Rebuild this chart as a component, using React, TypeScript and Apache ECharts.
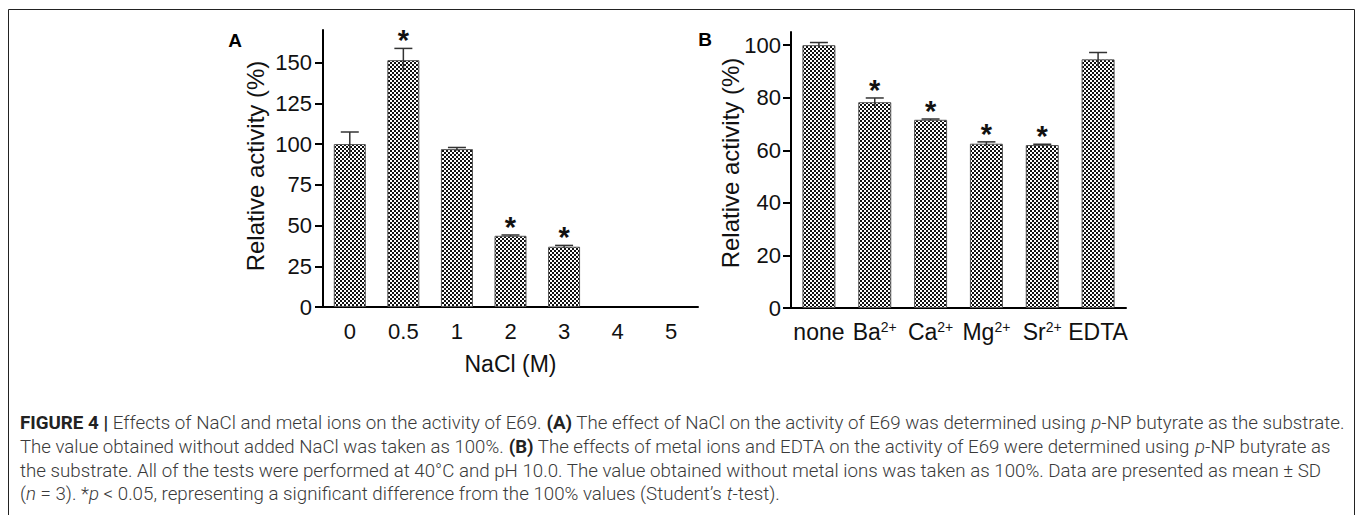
import React, { useEffect, useRef } from 'react';
import * as echarts from 'echarts';

const naclCategories = ['0', '0.5', '1', '2', '3', '4', '5'];
const naclValues = [100, 151.5, 96.9, 43.7, 37.0, 0, 0];
const naclErrors = [7.4, 7.2, 1.0, 0.5, 0.8, 0, 0];
const naclSignificant = [false, true, false, true, true, false, false];
const naclTicks = [0, 25, 50, 75, 100, 125, 150];

const ionCategories = ['none', 'Ba2+', 'Ca2+', 'Mg2+', 'Sr2+', 'EDTA'];
const ionValues = [100, 78.3, 71.6, 62.5, 62.0, 94.6];
const ionErrors = [1.0, 1.6, 0.3, 0.7, 0.3, 2.6];
const ionSignificant = [false, true, true, true, true, false];
const ionTicks = [0, 20, 40, 60, 80, 100];

type Seg = { t: string; s?: 'b' | 'i' };
const captionLines: Seg[][] = [
  [
    { t: 'FIGURE 4 |', s: 'b' },
    { t: ' Effects of NaCl and metal ions on the activity of E69. ' },
    { t: '(A)', s: 'b' },
    { t: ' The effect of NaCl on the activity of E69 was determined using ' },
    { t: 'p', s: 'i' },
    { t: '-NP butyrate as the substrate.' },
  ],
  [
    { t: 'The value obtained without added NaCl was taken as 100%. ' },
    { t: '(B)', s: 'b' },
    { t: ' The effects of metal ions and EDTA on the activity of E69 were determined using ' },
    { t: 'p', s: 'i' },
    { t: '-NP butyrate as' },
  ],
  [
    { t: 'the substrate. All of the tests were performed at 40°C and pH 10.0. The value obtained without metal ions was taken as 100%. Data are presented as mean ± SD' },
  ],
  [
    { t: '(' },
    { t: 'n', s: 'i' },
    { t: ' = 3). *' },
    { t: 'p', s: 'i' },
    { t: ' < 0.05, representing a significant difference from the 100% values (Student\u2019s ' },
    { t: 't', s: 'i' },
    { t: '-test).' },
  ],
];
const captionTargets = [1325, 1310, 1303, 0];

const FONT = "'Liberation Sans', Arial, Helvetica, sans-serif";
const CAP_FONT = 'Roboto, "Liberation Sans", sans-serif';
const CAP_SIZE = 18;

function makePattern() {
  const c = document.createElement('canvas');
  c.width = 4;
  c.height = 4;
  const ctx = c.getContext('2d')!;
  ctx.fillStyle = '#ffffff';
  ctx.fillRect(0, 0, 4, 4);
  ctx.fillStyle = '#111111';
  ctx.fillRect(0, 0, 2, 2);
  ctx.fillRect(2, 2, 2, 2);
  return c;
}

function segFont(s?: 'b' | 'i') {
  const weight = s === 'b' ? 'bold' : '300';
  const style = s === 'i' ? 'italic' : 'normal';
  return `${style} ${weight} ${CAP_SIZE}px ${CAP_FONT}`;
}

function measureLine(segs: Seg[]) {
  const c = document.createElement('canvas');
  const ctx = c.getContext('2d')!;
  let w = 0;
  segs.forEach((sg) => {
    ctx.font = segFont(sg.s);
    w += ctx.measureText(sg.t).width;
  });
  return w;
}

function richText(segs: Seg[]) {
  return segs
    .map((sg) => (sg.s ? `{${sg.s}|${sg.t}}` : `{r|${sg.t}}`))
    .join('');
}

function errorSeries(values: number[], errors: number[], idx: number) {
  return {
    type: 'custom',
    xAxisIndex: idx,
    yAxisIndex: idx,
    z: 5,
    silent: true,
    encode: { x: 0, y: 1 },
    data: values.map((v, i) => [i, v, errors[i]]),
    renderItem: (params: any, api: any) => {
      const i = api.value(0);
      const v = api.value(1);
      const e = api.value(2);
      if (!e) return null;
      const top = api.coord([i, v + e]);
      const bot = api.coord([i, v - e]);
      const hw = 9;
      return {
        type: 'group',
        children: [
          {
            type: 'line',
            shape: { x1: top[0], y1: top[1], x2: bot[0], y2: bot[1] },
            style: { stroke: '#333', lineWidth: 1.5 },
          },
          {
            type: 'line',
            shape: { x1: top[0] - hw, y1: top[1], x2: top[0] + hw, y2: top[1] },
            style: { stroke: '#333', lineWidth: 1.5 },
          },
        ],
      };
    },
  };
}

function starSeries(values: number[], errors: number[], sig: boolean[], idx: number) {
  return {
    type: 'custom',
    xAxisIndex: idx,
    yAxisIndex: idx,
    z: 6,
    silent: true,
    encode: { x: 0, y: 1 },
    data: values
      .map((v, i) => [i, v + errors[i], sig[i] ? 1 : 0])
      .filter((d) => d[2] === 1),
    renderItem: (params: any, api: any) => {
      const p = api.coord([api.value(0), api.value(1)]);
      return {
        type: 'text',
        x: p[0],
        y: p[1] - 8,
        style: {
          text: '*',
          fontSize: 29,
          fontWeight: 'bold',
          fontFamily: FONT,
          fill: '#111',
          align: 'center',
          verticalAlign: 'middle',
        },
      };
    },
  };
}

function barData(values: number[]) {
  return values.map((v) => (v === 0 ? { value: v, itemStyle: { borderWidth: 0, opacity: 0 } } : v));
}

export default function App() {
  const ref = useRef<HTMLDivElement>(null);

  useEffect(() => {
    if (!ref.current) return;
    const chart = echarts.init(ref.current, undefined, { renderer: 'svg' });
    const pattern = { image: makePattern(), repeat: 'repeat' };

    const w0 = measureLine(captionLines[0]);
    const baseScale = w0 > 0 ? captionTargets[0] / w0 : 0.9;
    const captionEls = captionLines.map((segs, li) => {
      const w = measureLine(segs);
      const sx = captionTargets[li] > 0 && w > 0 ? captionTargets[li] / w : baseScale;
      return {
        type: 'text',
        x: 20,
        y: 423 + li * 23.6,
        scaleX: sx,
        style: {
          text: richText(segs),
          fontSize: CAP_SIZE,
          fontFamily: CAP_FONT,
          fill: '#3a3a3a',
          verticalAlign: 'middle',
          align: 'left',
          rich: {
            r: { fontSize: CAP_SIZE, fontFamily: CAP_FONT, fontWeight: 300, fill: '#3a3a3a' },
            b: { fontSize: CAP_SIZE, fontFamily: CAP_FONT, fontWeight: 'bold', fill: '#222' },
            i: { fontSize: CAP_SIZE, fontFamily: CAP_FONT, fontWeight: 300, fontStyle: 'italic', fill: '#3a3a3a' },
          },
        },
      };
    });

    const axisLineStyle = { color: '#000', width: 2 };
    const option: any = {
      animation: false,
      grid: [
        { left: 323, top: 30, width: 375, height: 277 },
        { left: 791, top: 32, width: 335, height: 276 },
      ],
      xAxis: [
        {
          type: 'category',
          gridIndex: 0,
          data: naclCategories,
          axisLine: { lineStyle: axisLineStyle },
          axisTick: { alignWithLabel: true, length: 8, lineStyle: { width: 2, color: '#000' } },
          axisLabel: { color: '#111', fontSize: 22, margin: 13, fontFamily: FONT, interval: 0 },
          name: 'NaCl (M)',
          nameLocation: 'middle',
          nameGap: 45,
          nameTextStyle: { color: '#111', fontSize: 23, fontFamily: FONT },
        },
        {
          type: 'category',
          gridIndex: 1,
          data: ionCategories,
          axisLine: { lineStyle: axisLineStyle },
          axisTick: { alignWithLabel: true, length: 8, lineStyle: { width: 2, color: '#000' } },
          axisLabel: {
            interval: 0,
            margin: 12,
            formatter: (v: string) => {
              const m = v.match(/^([A-Za-z]+)(\d\+)$/);
              return m ? `{n|${m[1]}}{s|${m[2]}}` : `{n|${v}}`;
            },
            rich: {
              n: { fontSize: 23, color: '#111', fontFamily: FONT, lineHeight: 24 },
              s: { fontSize: 14, color: '#111', fontFamily: FONT, verticalAlign: 'top', lineHeight: 14 },
            },
          },
        },
      ],
      yAxis: [
        {
          type: 'value',
          gridIndex: 0,
          min: 0,
          max: 170,
          interval: 25,
          splitLine: { show: false },
          axisLine: { show: true, lineStyle: axisLineStyle },
          axisTick: { show: true, length: 8, lineStyle: { width: 2, color: '#000' }, customValues: naclTicks },
          axisLabel: { customValues: naclTicks, margin: 11, fontSize: 22, color: '#111', fontFamily: FONT },
        },
        {
          type: 'value',
          gridIndex: 1,
          min: 0,
          max: 105,
          interval: 20,
          splitLine: { show: false },
          axisLine: { show: true, lineStyle: axisLineStyle },
          axisTick: { show: true, length: 8, lineStyle: { width: 2, color: '#000' }, customValues: ionTicks },
          axisLabel: { customValues: ionTicks, margin: 10, fontSize: 22, color: '#111', fontFamily: FONT },
        },
      ],
      series: [
        {
          type: 'bar',
          xAxisIndex: 0,
          yAxisIndex: 0,
          data: barData(naclValues),
          barWidth: 32,
          itemStyle: { color: pattern, borderColor: '#555', borderWidth: 1 },
        },
        {
          type: 'bar',
          xAxisIndex: 1,
          yAxisIndex: 1,
          data: barData(ionValues),
          barWidth: 33,
          itemStyle: { color: pattern, borderColor: '#555', borderWidth: 1 },
        },
        errorSeries(naclValues, naclErrors, 0),
        errorSeries(ionValues, ionErrors, 1),
        starSeries(naclValues, naclErrors, naclSignificant, 0),
        starSeries(ionValues, ionErrors, ionSignificant, 1),
      ],
      graphic: [
        {
          type: 'rect',
          shape: { x: 8.5, y: 9.5, width: 1346, height: 530 },
          style: { fill: 'none', stroke: '#222', lineWidth: 1 },
          silent: true,
        },
        {
          type: 'text',
          x: 235,
          y: 40,
          style: { text: 'A', fontSize: 19, fontWeight: 'bold', fontFamily: FONT, fill: '#000', align: 'center', verticalAlign: 'middle' },
        },
        {
          type: 'text',
          x: 705,
          y: 39,
          style: { text: 'B', fontSize: 19, fontWeight: 'bold', fontFamily: FONT, fill: '#000', align: 'center', verticalAlign: 'middle' },
        },
        {
          type: 'text',
          x: 255,
          y: 166,
          rotation: Math.PI / 2,
          style: { text: 'Relative activity (%)', fontSize: 24, fontFamily: FONT, fill: '#111', align: 'center', verticalAlign: 'middle' },
        },
        {
          type: 'text',
          x: 730,
          y: 163,
          rotation: Math.PI / 2,
          style: { text: 'Relative activity (%)', fontSize: 24, fontFamily: FONT, fill: '#111', align: 'center', verticalAlign: 'middle' },
        },
        ...captionEls,
      ],
    };
    chart.setOption(option);
    return () => chart.dispose();
  }, []);

  return (
    <div
      ref={ref}
      style={{ position: 'absolute', left: 0, top: 0, width: 1357, height: 515, background: '#fff' }}
    />
  );
}
